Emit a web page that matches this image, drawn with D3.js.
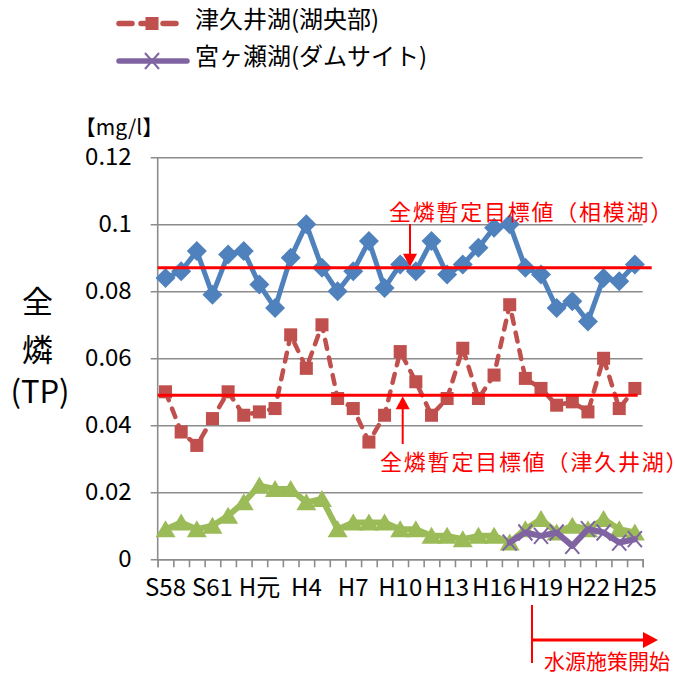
<!DOCTYPE html>
<html>
<head>
<meta charset="utf-8">
<script src="https://cdn.jsdelivr.net/npm/d3@7"></script>
<style>
  html, body { margin: 0; padding: 0; background: #fff; }
  svg { display: block; font-family: "Noto Sans CJK JP", "Noto Sans", sans-serif; }
</style>
</head>
<body>
<svg id="chart" width="675" height="674"></svg>
<script>
// Fiscal years (昭和 / 平成)
const categories = ["S58","S59","S60","S61","S62","S63","H元","H2","H3","H4","H5","H6","H7","H8","H9",
  "H10","H11","H12","H13","H14","H15","H16","H17","H18","H19","H20","H21","H22","H23","H24","H25"];
const tickLabels = ["S58","S61","H元","H4","H7","H10","H13","H16","H19","H22","H25"];
const yTicks = [0, 0.02, 0.04, 0.06, 0.08, 0.1, 0.12];

// Total phosphorus (mg/l)
const sagamiko = [0.084,0.086,0.092,0.079,0.091,0.092,0.082,0.075,0.090,0.100,0.087,0.080,0.086,0.095,0.081,
  0.088,0.086,0.095,0.085,0.088,0.093,0.099,0.100,0.087,0.085,0.075,0.077,0.071,0.084,0.083,0.088];
const tsukuiko = [0.050,0.038,0.034,0.042,0.050,0.043,0.044,0.045,0.067,0.057,0.070,0.048,0.045,0.035,0.043,
  0.062,0.053,0.043,0.048,0.063,0.048,0.055,0.076,0.054,0.051,0.046,0.047,0.044,0.060,0.045,0.051];
const thirdLake = [0.009,0.011,0.009,0.010,0.013,0.017,0.022,0.021,0.021,0.017,0.018,0.009,0.011,0.011,0.011,
  0.009,0.009,0.007,0.007,0.006,0.007,0.007,0.005,0.009,0.012,0.008,0.010,0.009,0.012,0.009,0.008];
const miyagaseko = [null,null,null,null,null,null,null,null,null,null,null,null,null,null,null,
  null,null,null,null,null,null,null,0.005,0.008,0.007,0.008,0.004,0.009,0.008,0.005,0.006];

// Provisional targets
const sagamiTarget = 0.087;
const tsukuiTarget = 0.049;
const policyStart = "H19";

const legendNames = ["津久井湖(湖央部)", "宮ヶ瀬湖(ダムサイト)"];

const svg = d3.select("#chart");
const plotLeft = 157.7, plotTop = 157.3, W = 485, H = 402;
const g = svg.append("g").attr("transform", `translate(${plotLeft},${plotTop})`);

const x = d3.scaleBand().domain(categories).range([0, W]).padding(0);
const xc = d => x(d) + x.bandwidth() / 2;
const y = d3.scaleLinear().domain([0, 0.12]).range([H, 0]);
const xEdge = d3.scaleLinear().domain([0, categories.length]).range([0, W]);

const C = { blue: "#4F81BD", red: "#C0504D", green: "#9BBB59", purple: "#8064A2", target: "#FF0000", grid: "#8C8C8C" };

// Y axis with gridlines
const yAxis = g.append("g")
  .call(d3.axisLeft(y).tickValues(yTicks).tickSize(-W).tickPadding(26)
    .tickFormat(d => d === 0 ? "0" : String(+d.toFixed(2))));
yAxis.select(".domain").remove();
yAxis.selectAll(".tick line").attr("x1", -7).attr("stroke", C.grid).attr("stroke-width", 1.6);
yAxis.selectAll(".tick text").attr("font-size", 24).attr("fill", "#000")
  .attr("font-family", "'Noto Sans CJK JP', sans-serif");

g.append("line").attr("x1", 0).attr("x2", 0).attr("y1", 0).attr("y2", H)
  .attr("stroke", C.grid).attr("stroke-width", 1.6);

// X axis: boundary ticks and category labels
const xTicks = g.append("g").attr("transform", `translate(0,${H})`)
  .call(d3.axisBottom(xEdge).tickValues(d3.range(categories.length + 1)).tickSize(8).tickFormat(""));
xTicks.select(".domain").attr("stroke", C.grid).attr("stroke-width", 1.6);
xTicks.selectAll(".tick line").attr("stroke", C.grid).attr("stroke-width", 1.6);

const xLabels = g.append("g").attr("transform", `translate(0,${H})`)
  .call(d3.axisBottom(x).tickValues(tickLabels).tickSize(0).tickPadding(20));
xLabels.select(".domain").remove();
xLabels.selectAll(".tick text").attr("font-size", 24).attr("fill", "#000")
  .attr("font-family", "'Noto Sans CJK JP', sans-serif");

// Unit label and y-axis title
svg.append("text").attr("x", 119).attr("y", 135).attr("text-anchor", "middle")
  .attr("font-size", 21).text("【mg/l】");
const yTitle = svg.append("g").attr("font-size", 31).attr("text-anchor", "middle");
yTitle.append("text").attr("x", 37.5).attr("y", 313).text("全");
yTitle.append("text").attr("x", 37.5).attr("y", 361).text("燐");
yTitle.append("text").attr("x", 40).attr("y", 403).text("(TP)");

// Series
const line = d3.line().defined(d => d.v != null).x(d => xc(d.c)).y(d => y(d.v));
const pts = arr => categories.map((c, i) => ({ c, v: arr[i] }));

const diamond = d3.symbol().type(d3.symbolSquare).size(200);
const square = d3.symbol().type(d3.symbolSquare).size(170);
const tri = "M0,-9L10,8L-10,8Z";
const cross = "M-7,-8L7,8M-7,8L7,-8";

function drawSeries(arr, color, width, dash, marker) {
  const data = pts(arr);
  g.append("path").datum(data).attr("d", line).attr("fill", "none")
    .attr("stroke", color).attr("stroke-width", width)
    .attr("stroke-linejoin", "round").attr("stroke-linecap", "round")
    .attr("stroke-dasharray", dash);
  const m = g.append("g").selectAll("path").data(data.filter(d => d.v != null)).join("path");
  marker(m, color);
}

drawSeries(sagamiko, C.blue, 5, null, (m, col) =>
  m.attr("d", diamond).attr("fill", col)
   .attr("transform", d => `translate(${xc(d.c)},${y(d.v)}) rotate(45)`));
drawSeries(tsukuiko, C.red, 4.5, "9,9", (m, col) =>
  m.attr("d", square).attr("fill", col)
   .attr("transform", d => `translate(${xc(d.c)},${y(d.v)})`));
drawSeries(thirdLake, C.green, 6, null, (m, col) =>
  m.attr("d", tri).attr("fill", col)
   .attr("transform", d => `translate(${xc(d.c)},${y(d.v)})`));
drawSeries(miyagaseko, C.purple, 6, null, (m, col) =>
  m.attr("d", cross).attr("fill", "none").attr("stroke", col).attr("stroke-width", 2)
   .attr("transform", d => `translate(${xc(d.c)},${y(d.v)})`));

// Target lines
g.append("line").attr("x1", 0).attr("x2", W + 9).attr("y1", y(sagamiTarget)).attr("y2", y(sagamiTarget))
  .attr("stroke", C.target).attr("stroke-width", 3);
g.append("line").attr("x1", 0).attr("x2", W - 5).attr("y1", y(tsukuiTarget)).attr("y2", y(tsukuiTarget))
  .attr("stroke", C.target).attr("stroke-width", 3);

// Annotations
const ann = svg.append("g").attr("fill", C.target);
function arrowHead(x0, y0, dir) { // dir: 1 down, -1 up
  return `M${x0},${y0}L${x0 - 7},${y0 - dir * 13}L${x0 + 7},${y0 - dir * 13}Z`;
}
const upY = plotTop + y(sagamiTarget);
ann.append("line").attr("x1", 410).attr("x2", 410).attr("y1", 224).attr("y2", upY - 10)
  .attr("stroke", C.target).attr("stroke-width", 2);
ann.append("path").attr("d", arrowHead(410, upY - 1, 1));
ann.append("text").attr("x", 389).attr("y", 219.5).attr("font-size", 22)
  .attr("letter-spacing", 1.75).text("全燐暫定目標値（相模湖）");

const loY = plotTop + y(tsukuiTarget);
ann.append("line").attr("x1", 402.7).attr("x2", 402.7).attr("y1", loY + 10).attr("y2", 444)
  .attr("stroke", C.target).attr("stroke-width", 2);
ann.append("path").attr("d", arrowHead(402.7, loY + 1, -1));
ann.append("text").attr("x", 380).attr("y", 469.5).attr("font-size", 22)
  .attr("letter-spacing", 1.8).text("全燐暫定目標値（津久井湖）");

const px = plotLeft + xc(policyStart) - 9;
ann.append("line").attr("x1", px).attr("x2", px).attr("y1", 605).attr("y2", 663)
  .attr("stroke", C.target).attr("stroke-width", 2);
ann.append("line").attr("x1", px).attr("x2", 645).attr("y1", 640).attr("y2", 640)
  .attr("stroke", C.target).attr("stroke-width", 3);
ann.append("path").attr("d", "M658,640L643,632L643,648Z");
ann.append("text").attr("x", 544).attr("y", 669).attr("font-size", 21).text("水源施策開始");

// Legend
const lg = svg.append("g");
lg.append("line").attr("x1", 119).attr("x2", 177).attr("y1", 23.5).attr("y2", 23.5)
  .attr("stroke", C.red).attr("stroke-width", 5.5).attr("stroke-linecap", "round")
  .attr("stroke-dasharray", "13,9");
lg.append("path").attr("d", square).attr("fill", C.red).attr("transform", "translate(152,23.5)");
lg.append("line").attr("x1", 119).attr("x2", 187).attr("y1", 61).attr("y2", 61)
  .attr("stroke", C.purple).attr("stroke-width", 5.5).attr("stroke-linecap", "round");
lg.append("path").attr("d", cross).attr("stroke", C.purple).attr("stroke-width", 2)
  .attr("fill", "none").attr("transform", "translate(152,61)");
lg.append("text").attr("x", 195).attr("y", 28).attr("font-size", 24).text(legendNames[0]);
lg.append("text").attr("x", 195).attr("y", 65).attr("font-size", 24).text(legendNames[1]);
</script>
</body>
</html>
